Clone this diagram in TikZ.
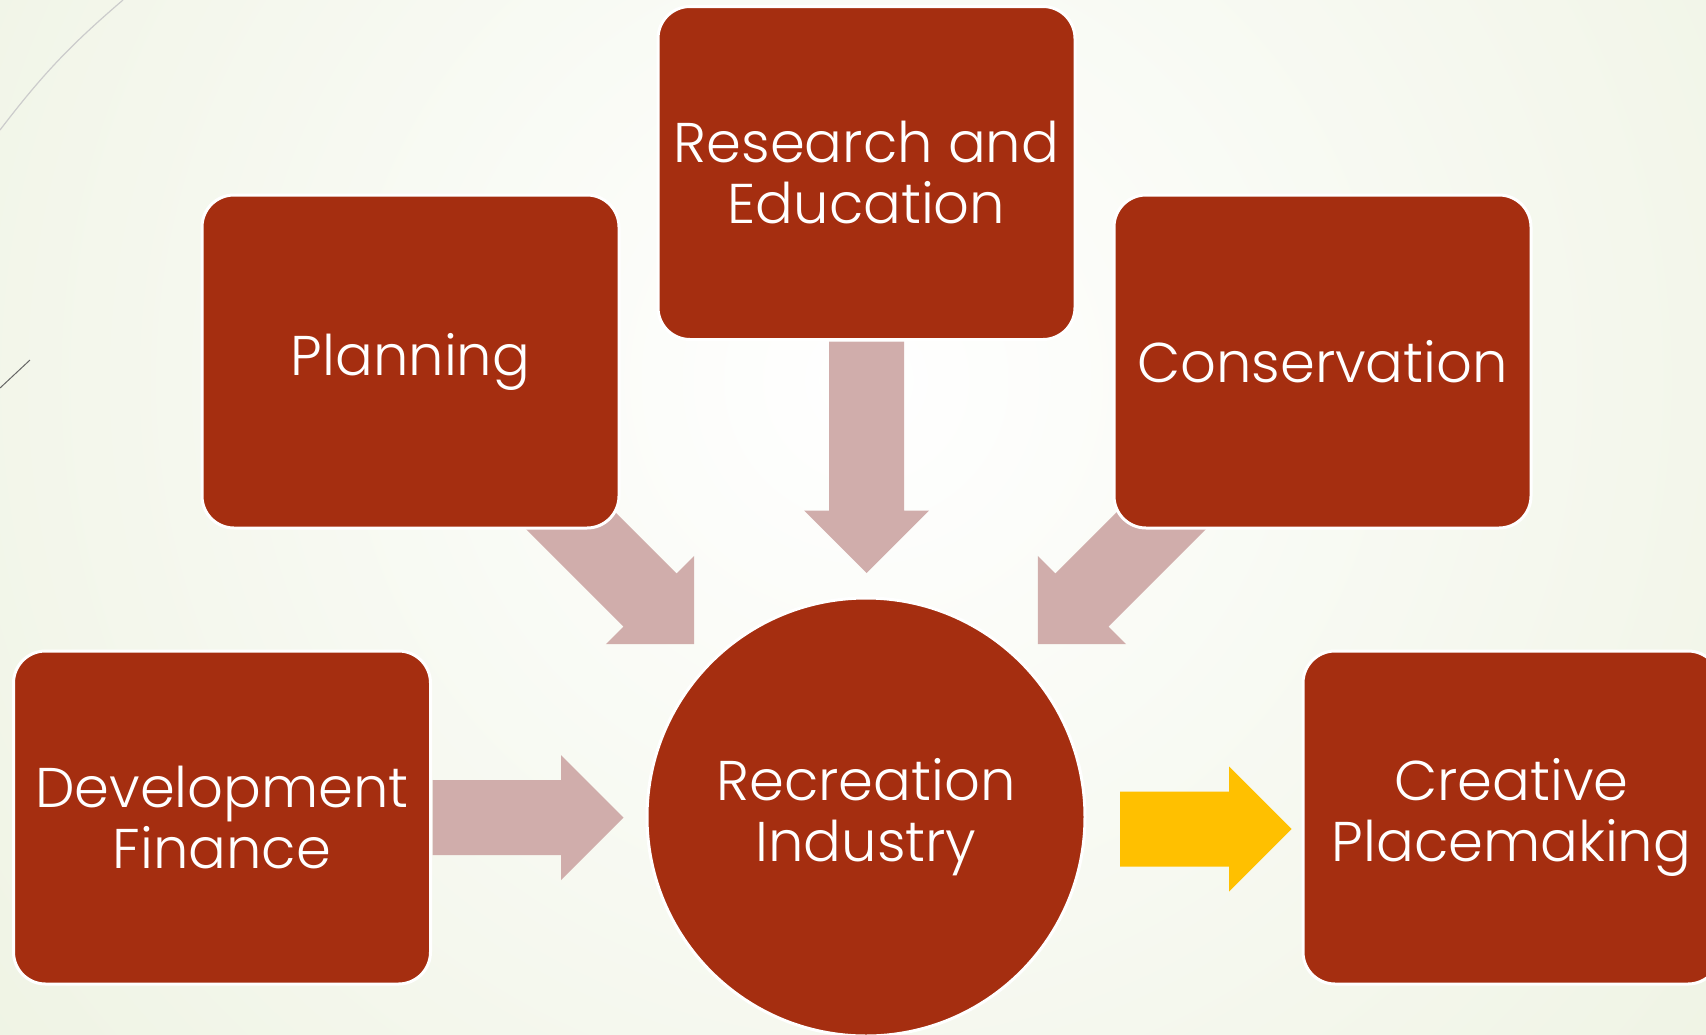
\documentclass[tikz,border=0pt]{standalone}
\usepackage{fontspec}
\setmainfont{Poppins}[UprightFont=* Light]
\usetikzlibrary{backgrounds}
\definecolor{boxred}{RGB}{165,46,16}
\definecolor{pinkarrow}{RGB}{208,173,171}
\definecolor{goldarrow}{RGB}{255,192,0}
\definecolor{bgedge}{RGB}{229,236,211}
\begin{document}
\begin{tikzpicture}[x=1pt,y=-1pt,line join=round,
	block/.style={rectangle,rounded corners=32pt,fill=boxred,draw=white,line width=3pt,
		minimum width=417pt,minimum height=333pt,inner sep=0pt,outer sep=0pt,
		text=white,align=center,font=\fontsize{56}{61}\selectfont},
	hub/.style={block,circle,minimum size=438pt}]
		\useasboundingbox (0,0) rectangle (1706,1034);
		% colour, start, angle, shaft length
		\def\fatarrow#1#2#3#4{\fill[#1,shift={#2},rotate=#3]
			(0,-37.5)--(#4,-37.5)--(#4,-62.5)--({#4+62.5},0)--(#4,62.5)--(#4,37.5)--(0,37.5)--cycle;}
		\node[block] (research) at (866.5,173) {Research and\\Education};
		\node[block] (planning) at (410.5,361.5) {Planning};
		\node[block] (conservation) at (1322.5,361.5) {Conservation};
		\node[block] (devfin) at (222,817.5) {Development\\Finance};
		\node[block] (creative) at (1511.5,817.5) {Creative\\Placemaking};
		\node[hub] (recreation) at (866,817) {Recreation\\Industry};
		\begin{scope}[on background layer]
			\clip (0,0) rectangle (1706,1034);
			\fill[bgedge] (0,0) rectangle (1706,1034);
			\shade[inner color=white,outer color=bgedge] (866,380) circle (1800);
			\draw[black!20,line width=1.2pt] (0,130) to[bend left=6] (123,0);
			\draw[black!60,line width=1pt] (0,388)--(30,360);
			\fatarrow{pinkarrow}{([yshift=-2pt]research.south)}{-90}{169}
			\fatarrow{pinkarrow}{(510,460)}{-45}{198}
			\fatarrow{pinkarrow}{(1222,460)}{-135}{198}
			\fatarrow{pinkarrow}{([xshift=2pt]devfin.east)}{0}{128.5}
			\fatarrow{goldarrow}{([xshift=35pt,yshift=-12pt]recreation.east)}{0}{109}
		\end{scope}
\end{tikzpicture}
\end{document}
